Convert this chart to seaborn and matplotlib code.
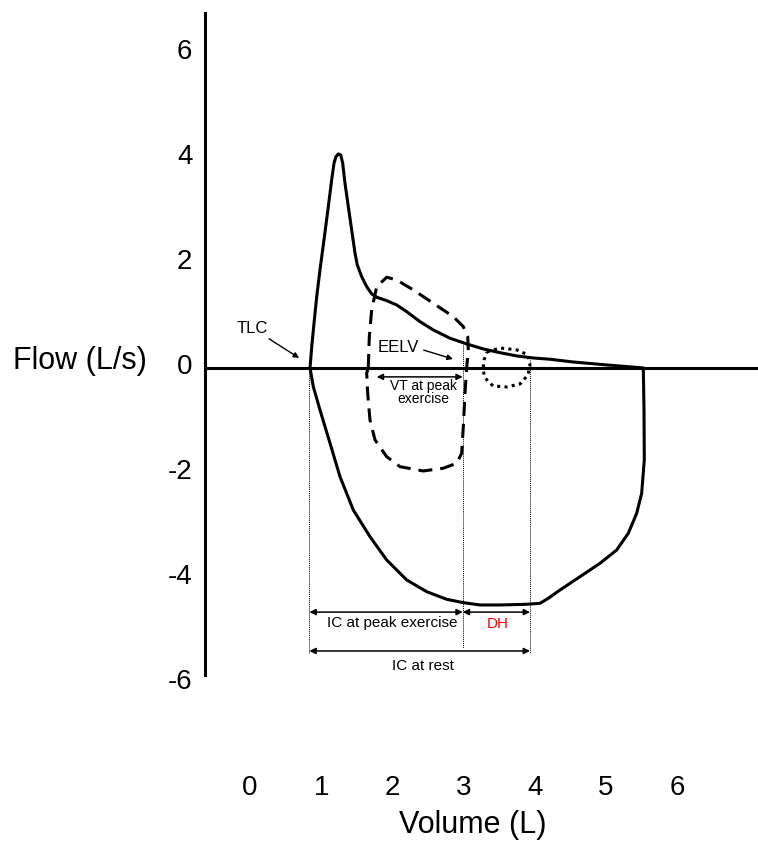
import matplotlib
matplotlib.use("Agg")
import matplotlib.pyplot as plt
import matplotlib.transforms as mtransforms
import seaborn as sns
import pandas as pd

# Maximal flow-volume loop (volume L, flow L/s): expiration from TLC, then inspiration from RV
max_vol = [0.843, 0.867, 0.899, 0.937, 0.983, 1.039, 1.100, 1.147, 1.180, 1.208, 1.240,
           1.274, 1.302, 1.334, 1.381, 1.428, 1.475, 1.507, 1.569, 1.639, 1.709, 1.780,
           1.920, 2.060, 2.201, 2.388, 2.574, 2.809, 3.044, 3.277, 3.511, 3.746, 3.979,
           4.213, 4.537, 5.014, 5.524,
           5.534, 5.538, 5.501, 5.431, 5.313, 5.150, 4.916, 4.635, 4.354, 4.190, 4.073,
           3.886, 3.511, 3.230, 2.996, 2.763, 2.482, 2.201, 1.920, 1.685, 1.451, 1.264,
           1.124, 0.983, 0.889, 0.843]
max_flow = [0.0, 0.406, 0.851, 1.358, 1.867, 2.438, 3.072, 3.581, 3.899, 4.025, 4.076,
            4.057, 3.899, 3.518, 3.072, 2.629, 2.185, 1.962, 1.739, 1.549, 1.410, 1.347,
            1.282, 1.200, 1.072, 0.882, 0.724, 0.566, 0.457, 0.362, 0.291, 0.229, 0.190,
            0.166, 0.114, 0.057, 0.0,
            -0.800, -1.752, -2.387, -2.768, -3.149, -3.467, -3.720, -3.975, -4.229, -4.387, -4.482,
            -4.501, -4.514, -4.514, -4.470, -4.406, -4.261, -4.038, -3.657, -3.213, -2.705, -2.070,
            -1.434, -0.800, -0.356, 0.0]

# Tidal loop at peak exercise (dashed)
ex_vol = [1.661, 1.676, 1.709, 1.780, 1.920, 2.060, 2.294, 2.574, 2.855, 2.996, 3.058,
          3.066, 3.043, 3.020, 2.996, 2.973, 2.903, 2.715, 2.434, 2.107, 1.920, 1.756,
          1.685, 1.653, 1.639, 1.661]
ex_flow = [0.0, 0.597, 1.105, 1.549, 1.728, 1.676, 1.486, 1.232, 0.977, 0.787, 0.597,
           0.343, 0.0, -0.482, -1.118, -1.625, -1.815, -1.910, -1.962, -1.880, -1.690, -1.371,
           -0.990, -0.482, -0.101, 0.0]

# Tidal loop at rest (dotted)
rest_vol = [3.329, 3.511, 3.750, 3.904, 3.933, 3.904, 3.792, 3.610, 3.413, 3.301, 3.272,
            3.287, 3.329]
rest_flow = [0.305, 0.381, 0.343, 0.248, 0.057, -0.133, -0.305, -0.362, -0.343, -0.190, -0.038,
             0.152, 0.305]

# Reference volumes: TLC, EELV at peak exercise, EELV at rest
tlc = 0.835
eelv_ex = 2.988
eelv_rest = 3.933

y_ticks = [-6, -4, -2, 0, 2, 4, 6]
x_ticks = [0, 1, 2, 3, 4, 5, 6]

sns.set_theme(style="white")
plt.rcParams["font.family"] = ["Liberation Sans", "DejaVu Sans"]
plt.rcParams["text.color"] = "black"

fig = plt.figure(figsize=(7.58, 8.42), dpi=100)
ax = fig.add_axes([205 / 758, 159 / 842, 553 / 758, 670 / 842])

loops = pd.DataFrame({"vol": max_vol, "flow": max_flow})
sns.lineplot(data=loops, x="vol", y="flow", sort=False, estimator=None, color="black",
             lw=2.2, solid_joinstyle="round", ax=ax)
sns.lineplot(x=ex_vol, y=ex_flow, sort=False, estimator=None, color="black",
             lw=2.2, linestyle=(0, (4.6, 2.6)), ax=ax)
sns.lineplot(x=rest_vol, y=rest_flow, sort=False, estimator=None, color="black",
             lw=2.2, linestyle=(0, (1, 1.4)), ax=ax)

ax.axhline(0, color="black", lw=2.2, zorder=1)

# thin dotted guides
thin = dict(color="black", lw=0.7, linestyle=(0, (1, 1)))
ax.plot([tlc, tlc], [0, -5.42], **thin)
ax.plot([eelv_ex, eelv_ex], [0.44, -5.33], **thin)
ax.plot([eelv_rest, eelv_rest], [0.15, -5.42], **thin)

arrow = dict(arrowstyle="<|-|>", color="black", lw=1.1, mutation_scale=9, shrinkA=0, shrinkB=0)
ax.annotate("", xy=(eelv_ex, -4.65), xytext=(tlc, -4.65), arrowprops=arrow)
ax.annotate("", xy=(eelv_rest, -4.65), xytext=(eelv_ex, -4.65), arrowprops=arrow)
ax.annotate("", xy=(eelv_rest, -5.39), xytext=(tlc, -5.39), arrowprops=arrow)
ax.annotate("", xy=(eelv_ex, -0.17), xytext=(1.78, -0.17), arrowprops=arrow)

ax.text(2.0, -4.85, "IC at peak exercise", fontsize=11, ha="center", va="center")
ax.text(3.48, -4.88, "DH", fontsize=11, color="red", ha="center", va="center")
ax.text(2.43, -5.68, "IC at rest", fontsize=11, ha="center", va="center")
ax.text(2.43, -0.46, "VT at peak\nexercise", fontsize=10, ha="center", va="center",
        linespacing=0.9)

single = dict(arrowstyle="-|>", color="black", lw=1.0, mutation_scale=8, shrinkA=0, shrinkB=0)
ax.annotate("TLC", xy=(0.69, 0.19), xytext=(0.03, 0.76), fontsize=12,
            ha="center", va="center", arrowprops=single)
ax.annotate("", xy=(2.85, 0.17), xytext=(2.44, 0.34), arrowprops=single)
ax.text(2.08, 0.38, "EELV", fontsize=12, ha="center", va="center")

ax.set_xlim(-0.632, 7.135)
ax.set_ylim(-6.0, 6.76)
ax.set_yticks(y_ticks)
ax.set_yticklabels([str(v) for v in y_ticks])
ax.set_xticks(x_ticks)
ax.set_xticklabels([str(v) for v in x_ticks])
ax.tick_params(axis="y", length=0, pad=9, labelsize=20, colors="black")
ax.tick_params(axis="x", length=0, pad=66, labelsize=20, colors="black")

# y labels sit a little above their gridline in the original
nudge = mtransforms.ScaledTranslation(0, 4 / 100, fig.dpi_scale_trans)
for lab in ax.get_yticklabels():
    lab.set_transform(lab.get_transform() + nudge)

for side in ["top", "right", "bottom"]:
    ax.spines[side].set_visible(False)
ax.spines["left"].set_linewidth(2.2)
ax.spines["left"].set_color("black")
ax.spines["left"].set_bounds(-5.85, 6.76)

ax.set_ylabel("Flow (L/s)", fontsize=22, rotation=0, ha="right", va="center", color="black")
ax.yaxis.set_label_coords(-0.105, 0.48)
ax.set_xlabel("Volume (L)", fontsize=22, va="center", color="black")
ax.xaxis.set_label_coords(0.485, -0.212)

fig.savefig("out.png", dpi=100)
